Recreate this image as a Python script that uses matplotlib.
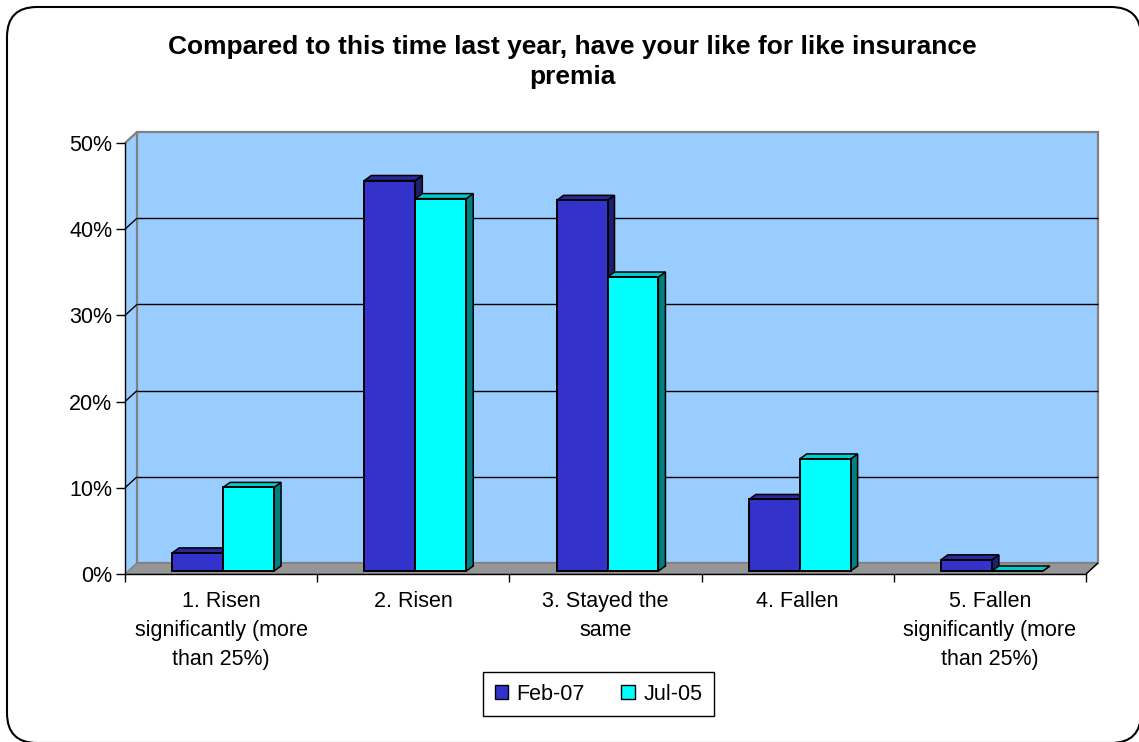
import matplotlib
matplotlib.use("Agg")
import matplotlib.pyplot as plt
from matplotlib.patches import Polygon, Patch, FancyBboxPatch
from matplotlib.transforms import IdentityTransform

# ---------------- data ----------------
categories = ["1. Risen\nsignificantly (more\nthan 25%)", "2. Risen",
              "3. Stayed the\nsame", "4. Fallen",
              "5. Fallen\nsignificantly (more\nthan 25%)"]
feb07 = [2.1, 45.3, 43.0, 8.3, 1.3]
jul05 = [9.7, 43.2, 34.1, 13.0, 0.0]
series_names = ["Feb-07", "Jul-05"]
yticks = [0, 10, 20, 30, 40, 50]
ytick_labels = ["0%", "10%", "20%", "30%", "40%", "50%"]
title = "Compared to this time last year, have your like for like insurance\npremia"

# ---------------- style ----------------
plt.rcParams['font.family'] = ['Liberation Sans', 'DejaVu Sans']
W, H = 1139, 742
DPI = 100
front_cols = ["#3333CC", "#00FFFF"]
top_cols = ["#29299A", "#00CCCC"]
side_cols = ["#1F1F70", "#008080"]
wall_col = "#99CCFF"
floor_col = "#969696"
edge_gray = "#808080"
WALL = (12, 11)     # px depth of the wall
BAR = (2, 3)        # px front-face offset of bars
DEPTH = (7, 5)      # px depth of bars
bar_w = 0.265


def fx(px):
    return px / W


def fy(py):
    return (H - py) / H


fig = plt.figure(figsize=(W / DPI, H / DPI), dpi=DPI)
fig.patch.set_facecolor("white")

# rounded chart-area border (right and bottom edges run off the image)
border = FancyBboxPatch((7, -1), 1134, 736, boxstyle="round,pad=0,rounding_size=30",
                        transform=IdentityTransform(), facecolor="white",
                        edgecolor="black", lw=1.5, zorder=-1)
fig.patches.append(border)

ax = fig.add_axes([fx(125), fy(574), fx(1086) - fx(125), fy(143) - fy(574)])
ax.set_zorder(1)
ax.set_xlim(0, len(categories))
ax.set_ylim(0, 50)
ax.patch.set_visible(False)
fig.canvas.draw()


def disp(x, y, off=(0, 0)):
    p = ax.transData.transform((x, y))
    return (p[0] + off[0], p[1] + off[1])


def addoff(o1, o2):
    return (o1[0] + o2[0], o1[1] + o2[1])


def poly(points, fc, ec, lw, z):
    p = Polygon(points, closed=True, facecolor=fc, edgecolor=ec, lw=lw,
                transform=IdentityTransform(), zorder=z, clip_on=False,
                joinstyle="miter")
    ax.add_patch(p)
    return p


def seg(p, q, color, lw, z):
    ax.plot([p[0], q[0]], [p[1], q[1]], color=color, lw=lw,
            transform=IdentityTransform(), clip_on=False, zorder=z,
            solid_capstyle="butt")


n = len(categories)
ymax = 50
# side wall
poly([disp(0, 0), disp(0, ymax), disp(0, ymax, WALL), disp(0, 0, WALL)],
     wall_col, "none", 0, 1)
# back wall
poly([disp(0, 0, WALL), disp(0, ymax, WALL), disp(n, ymax, WALL), disp(n, 0, WALL)],
     wall_col, edge_gray, 1.6, 1)
# side wall top edge
seg(disp(0, ymax), disp(0, ymax, WALL), edge_gray, 1.6, 1.2)
# floor
poly([disp(0, 0), disp(n, 0), disp(n, 0, WALL), disp(0, 0, WALL)],
     floor_col, edge_gray, 1.0, 1.5)

# gridlines on back wall and side wall
for t in yticks[1:-1]:
    a, b = disp(0, t, WALL), disp(n, t, WALL)
    seg(a, b, "black", 1.0, 1.3)
    seg(disp(0, t), a, "black", 1.0, 1.3)

# bars
series = [feb07, jul05]
zb = 2
for i in range(n):
    c = i + 0.5
    for s, vals in enumerate(series):
        h = vals[i]
        x0 = c - bar_w + s * bar_w
        x1 = x0 + bar_w
        back = addoff(BAR, DEPTH)
        # side face
        poly([disp(x1, 0, BAR), disp(x1, h, BAR), disp(x1, h, back), disp(x1, 0, back)],
             side_cols[s], "black", 1.1, zb)
        # top face
        poly([disp(x0, h, BAR), disp(x1, h, BAR), disp(x1, h, back), disp(x0, h, back)],
             top_cols[s], "black", 1.1, zb)
        # front face
        poly([disp(x0, 0, BAR), disp(x1, 0, BAR), disp(x1, h, BAR), disp(x0, h, BAR)],
             front_cols[s], "black", 1.4, zb + 0.1)
        zb += 0.2

# floor right edge
seg(disp(n, 0), disp(n, 0, WALL), "black", 1.0, 1.6)

# axes
for sp in ["top", "right"]:
    ax.spines[sp].set_visible(False)
for sp in ["left", "bottom"]:
    ax.spines[sp].set_color("black")
    ax.spines[sp].set_linewidth(1.0)
    ax.spines[sp].set_zorder(5)

ax.set_yticks(yticks)
ax.set_yticklabels(ytick_labels, fontsize=15.5)
ax.tick_params(axis="y", length=6.5, width=1.0, pad=2.5, color="black")

ax.set_xticks(range(n + 1))
ax.set_xticklabels([""] * (n + 1))
ax.set_xticks([i + 0.5 for i in range(n)], minor=True)
ax.set_xticklabels(categories, minor=True, fontsize=15.5, linespacing=1.5)
ax.tick_params(axis="x", which="major", length=6, width=1.0, color="black")
ax.tick_params(axis="x", which="minor", length=0, pad=12)

# title
fig.text(fx(572), fy(62), title, ha="center", va="center", fontsize=19,
         fontweight="bold", linespacing=1.3)

# legend
handles = [Patch(facecolor=front_cols[k], edgecolor="black", lw=1.0) for k in range(2)]
leg = fig.legend(handles, series_names, ncol=2, loc="center",
                 bbox_to_anchor=(fx(598.5), fy(694)), frameon=True, fancybox=False,
                 edgecolor="black", fontsize=15.5, handlelength=0.62, handleheight=0.62,
                 handletextpad=0.4, columnspacing=1.7, borderpad=0.55, framealpha=1)
leg.get_frame().set_linewidth(1.0)

fig.savefig("out.png", dpi=DPI)
